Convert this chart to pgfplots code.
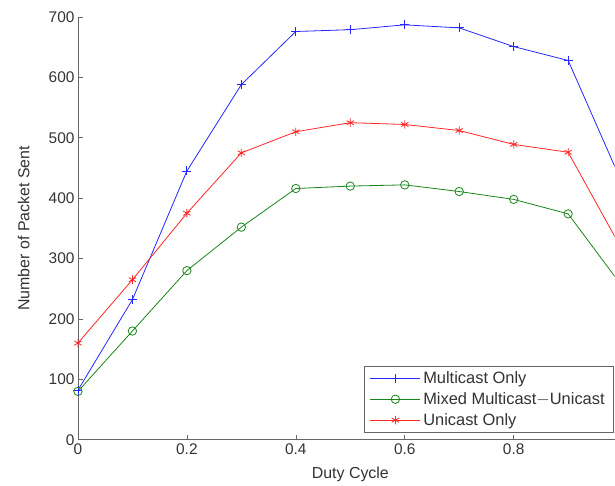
\documentclass[border=0pt]{standalone}
\usepackage{fontspec}
\setmainfont{Liberation Sans}
\usepackage{pgfplots}
\pgfplotsset{compat=1.18}
\definecolor{mblue}{rgb}{0.15,0.15,1}
\definecolor{mgreen}{rgb}{0.1,0.52,0.1}
\definecolor{mred}{rgb}{1,0.15,0.15}
\definecolor{axgray}{rgb}{0.4,0.4,0.4}
\definecolor{txtgray}{rgb}{0.2,0.2,0.2}
\begin{document}
\begin{tikzpicture}
\begin{axis}[
  at={(0,0)}, anchor=south west,
  scale only axis,
  width=537bp, height=423bp,
  xmin=0, xmax=0.9853, ymin=0, ymax=700,
  axis lines*=left,
  axis line style={axgray, line width=0.8bp},
  xtick={0,0.2,0.4,0.6,0.8},
  xticklabels={0,0.2,0.4,0.6,0.8},
  ytick={0,100,200,300,400,500,600,700},
  tick align=inside,
  major tick length=5bp,
  tick style={axgray, line width=0.6bp},
  /pgf/number format/assume math mode=true,
  tick label style={font=\fontsize{15.5}{18}\selectfont, text=txtgray},
  xlabel={Duty Cycle},
  ylabel={Number of Packet Sent},
  label style={font=\fontsize{16}{19}\selectfont, text=txtgray},
  xlabel style={at={(axis description cs:0.5076,0)}, anchor=base, yshift=-39bp},
  ylabel style={at={(axis description cs:0,0.5)}, anchor=south, yshift=45bp},
  clip=true,
  legend style={at={(rel axis cs:0.998,0.0165)}, anchor=south east,
    draw=axgray, line width=0.8bp, font=\fontsize{16.5}{19}\selectfont,
    text=txtgray, inner xsep=6bp, inner ysep=3bp, row sep=2.5bp,
    nodes={inner sep=2.5bp}},
  legend cell align=left,
  legend image code/.code={
    \draw[mark repeat=2, mark phase=2] plot coordinates {(0bp,0bp) (25bp,0bp) (50bp,0bp)};
  },
]
\addplot[mblue, line width=0.8bp, mark=+, mark size=4.5bp, mark options={line width=0.8bp}]
  coordinates {(0,82) (0.1,232) (0.2,445) (0.3,588) (0.4,676) (0.5,679) (0.6,687) (0.7,682) (0.8,651) (0.9,628) (1.0,423)};
\addlegendentry{Multicast Only}
\addplot[mgreen, line width=0.8bp, mark=o, mark size=4.2bp, mark options={line width=0.8bp}]
  coordinates {(0,80) (0.1,180) (0.2,280) (0.3,352) (0.4,416) (0.5,420) (0.6,422) (0.7,411) (0.8,398) (0.9,374) (1.0,253)};
\addlegendentry{Mixed Multicast$-$Unicast}
\addplot[mred, line width=0.8bp, mark=asterisk, mark size=4.2bp, mark options={line width=0.8bp}]
  coordinates {(0,160) (0.1,265) (0.2,375) (0.3,475) (0.4,510) (0.5,525) (0.6,522) (0.7,512) (0.8,489) (0.9,476) (1.0,313)};
\addlegendentry{Unicast Only}
\end{axis}
\path (-78bp,-44bp) rectangle (537bp,440bp);
\end{tikzpicture}
\end{document}
